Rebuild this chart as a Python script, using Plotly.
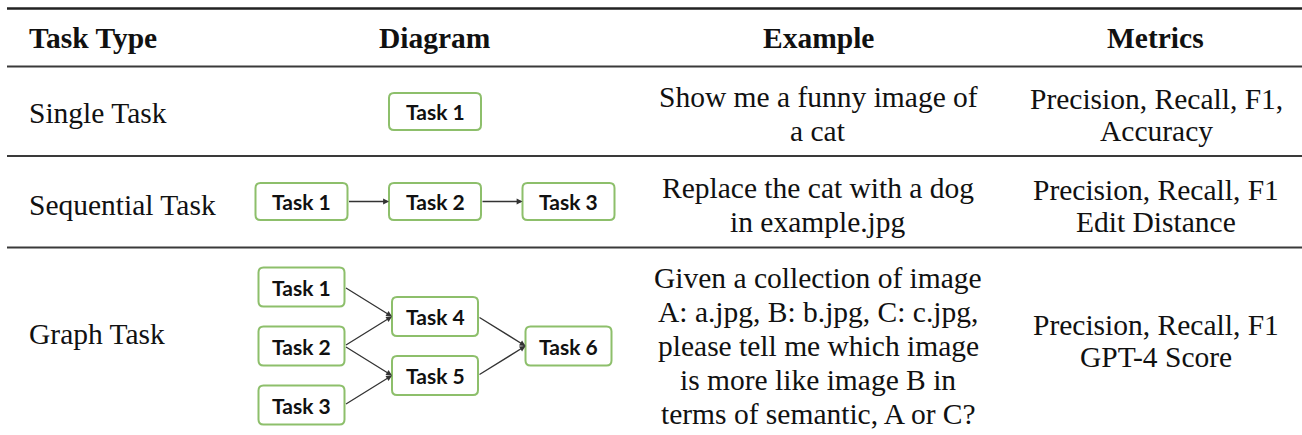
import plotly.graph_objects as go

# ---------------- data ----------------
headers = ["Task Type", "Diagram", "Example", "Metrics"]
task_types = ["Single Task", "Sequential Task", "Graph Task"]
examples = [
    ["Show me a funny image of", "a cat"],
    ["Replace the cat with a dog", "in example.jpg"],
    ["Given a collection of image", "A: a.jpg, B: b.jpg, C: c.jpg,",
     "please tell me which image", "is more like image B in",
     "terms of semantic, A or C?"],
]
metrics = [
    ["Precision, Recall, F1,", "Accuracy"],
    ["Precision, Recall, F1", "Edit Distance"],
    ["Precision, Recall, F1", "GPT-4 Score"],
]
diagram_nodes = [
    ["Task 1"],
    ["Task 1", "Task 2", "Task 3"],
    ["Task 1", "Task 2", "Task 3", "Task 4", "Task 5", "Task 6"],
]
diagram_edges = [
    [],
    [(0, 1), (1, 2)],
    [(0, 3), (1, 3), (1, 4), (2, 4), (3, 5), (4, 5)],
]

# ---------------- layout constants ----------------
W, H = 1302, 435
SERIF = "Liberation Serif"
SANS = "Lato"
FS = 29.5
TXT = "#111111"
GREEN = "#8dbf6b"
rule_ys = [8.5, 66.5, 156, 247.5]
rule_w = [2.6, 1.8, 1.8, 1.8]
header_y = 38
header_x = [27, 435, 818, 1155]
label_x = 27
label_y = [113, 205, 334]
example_x, example_c, ex_sp = 818, [114, 205, 346], 34
metric_x, metric_c, me_sp = 1156, [115, 206, 341], 32
diag_cx, diag_cy = 435, [111.5, 201.5, 346]
col_step, row_step = 133.5, 59
box_size = [(92, 37), (92, 37), (86, 39)]

fig = go.Figure()
shapes, annos = [], []

for y, w in zip(rule_ys, rule_w):
    shapes.append(dict(type="line", xref="x", yref="y", x0=7, x1=W, y0=y, y1=y,
                       line=dict(color="#222222" if w > 2 else "#3a3a3a", width=w)))


def text(x, y, s, bold=False, anchor="center", size=FS, family=SERIF):
    annos.append(dict(x=x, y=y, xref="x", yref="y", text=f"<b>{s}</b>" if bold else s,
                      showarrow=False, xanchor=anchor, yanchor="middle",
                      font=dict(family=family, size=size, color=TXT)))


for i, h in enumerate(headers):
    text(header_x[i], header_y, h, bold=True, anchor="left" if i == 0 else "center")

for r in range(3):
    text(label_x, label_y[r], task_types[r], anchor="left")
    n = len(examples[r])
    for k, line in enumerate(examples[r]):
        text(example_x, example_c[r] + (k - (n - 1) / 2) * ex_sp, line)
    n = len(metrics[r])
    for k, line in enumerate(metrics[r]):
        text(metric_x, metric_c[r] + (k - (n - 1) / 2) * me_sp, line)


def rounded(x0, y0, x1, y1, rad):
    return (f"M{x0+rad},{y0} L{x1-rad},{y0} Q{x1},{y0} {x1},{y0+rad} "
            f"L{x1},{y1-rad} Q{x1},{y1} {x1-rad},{y1} L{x0+rad},{y1} "
            f"Q{x0},{y1} {x0},{y1-rad} L{x0},{y0+rad} Q{x0},{y0} {x0+rad},{y0} Z")


for r in range(3):
    nodes, edges = diagram_nodes[r], diagram_edges[r]
    depth = [0] * len(nodes)
    for _ in range(len(nodes)):
        for a, b in edges:
            depth[b] = max(depth[b], depth[a] + 1)
    maxd = max(depth)
    pos = {}
    for d in range(maxd + 1):
        members = [i for i in range(len(nodes)) if depth[i] == d]
        for k, i in enumerate(members):
            pos[i] = (diag_cx + (d - maxd / 2) * col_step,
                      diag_cy[r] + (k - (len(members) - 1) / 2) * row_step)
    bw, bh = box_size[r]
    for a, b in edges:
        xa, ya = pos[a]
        xb, yb = pos[b]
        annos.append(dict(x=xb - bw / 2, y=yb, ax=xa + bw / 2, ay=ya, xref="x", yref="y",
                          axref="x", ayref="y", text="", showarrow=True, arrowhead=2,
                          arrowsize=0.9, arrowwidth=1.3, arrowcolor="#333333", standoff=0))
    for i, name in enumerate(nodes):
        cx, cy = pos[i]
        shapes.append(dict(type="path", xref="x", yref="y",
                           path=rounded(cx - bw / 2, cy - bh / 2, cx + bw / 2, cy + bh / 2, 5),
                           line=dict(color=GREEN, width=2), fillcolor="white"))
        text(cx, cy, name, bold=True, size=21, family=SANS)

fig.update_layout(
    width=W, height=H, margin=dict(l=0, r=0, t=0, b=0),
    paper_bgcolor="white", plot_bgcolor="white",
    xaxis=dict(range=[0, W], visible=False, fixedrange=True),
    yaxis=dict(range=[H, 0], visible=False, fixedrange=True),
    shapes=shapes, annotations=annos, showlegend=False,
)
fig.write_html("out.html", config={"displayModeBar": False},
               post_script="document.body.style.margin='0';document.body.style.padding='0';"
                           "document.body.style.overflow='hidden';")
